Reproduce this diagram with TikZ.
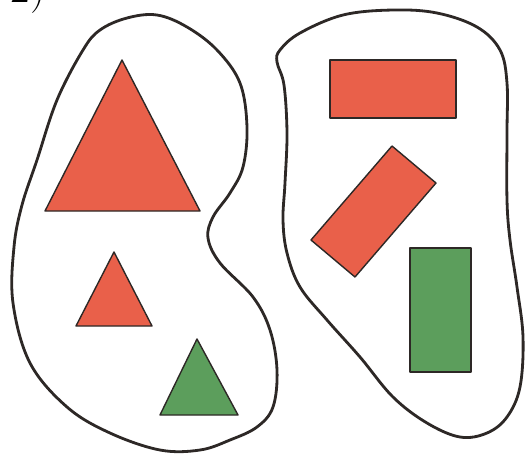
\documentclass[tikz,border=0pt]{standalone}
\usepackage{xcolor}
\usepackage{tikz}
\usetikzlibrary{calc}

\definecolor{figred}{RGB}{233,96,74}
\definecolor{figgreen}{RGB}{92,158,92}
\definecolor{edge}{RGB}{45,40,38}

\begin{document}
\begin{tikzpicture}[
    x=0.02cm, y=-0.02cm,
    blob/.style={
        draw=edge,
        line width=1.6pt,
        smooth cycle,
        tension=0.6
    },
    redshape/.style={
        draw=edge,
        line width=0.8pt,
        line join=round,
        fill=figred
    },
    greenshape/.style={
        draw=edge,
        line width=0.8pt,
        line join=round,
        fill=figgreen
    }
]

\useasboundingbox (0,0) rectangle (525,458);
\clip (0,0) rectangle (525,458);

% --- Label (cut off at the top) ---
\node[anchor=base west, inner sep=0pt, font=\Huge] (lbl) at (10,2) {2)};

% --- Left set: triangles ---
\draw[blob] plot coordinates {
    (127,18) (157,15) (187,27) (217,50) (240,83) (247,127) (243,167)
    (230,193) (213,217) (208,238) (220,263) (253,297) (270,330)
    (277,370) (273,407) (257,427) (230,440) (200,450) (160,450)
    (110,433) (67,407) (30,363) (13,303) (14,247) (22,205) (37,160)
    (57,100) (83,50) (100,30)
};

\draw[redshape] (122,60) -- (200,211) -- (45,211) -- cycle;
\draw[redshape] (114,252) -- (152,326) -- (76,326) -- cycle;
\draw[greenshape] (197,339) -- (238,415) -- (160,415) -- cycle;

% --- Right set: rectangles ---
\draw[blob] plot coordinates {
    (280,50) (300,33) (343,15) (393,10) (437,13) (477,27) (500,50)
    (507,83) (507,133) (507,200) (510,240) (517,287) (523,337)
    (520,387) (507,417) (487,433) (460,437) (427,423) (393,397)
    (360,357) (327,320) (300,287) (287,253) (283,220) (285,183)
    (287,133) (284,85) (277,62)
};

\draw[redshape] (330,60) rectangle (456,118);
\draw[redshape] (392,146) -- (436,183) -- (355,277) -- (311,240) -- cycle;
\draw[greenshape] (410,248) rectangle (471,372);

\end{tikzpicture}
\end{document}
